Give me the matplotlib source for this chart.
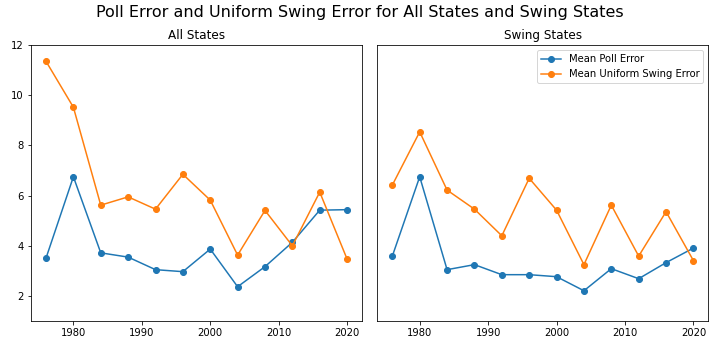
import matplotlib
matplotlib.use("Agg")
import matplotlib.pyplot as plt

years = [1976, 1980, 1984, 1988, 1992, 1996, 2000, 2004, 2008, 2012, 2016, 2020]

# All states
all_poll_error = [3.51, 6.75, 3.72, 3.55, 3.05, 2.97, 3.87, 2.37, 3.17, 4.14, 5.42, 5.44]
all_swing_error = [11.35, 9.52, 5.62, 5.95, 5.46, 6.85, 5.82, 3.63, 5.41, 4.00, 6.14, 3.47]

# Swing states
swing_poll_error = [3.59, 6.75, 3.05, 3.25, 2.85, 2.85, 2.77, 2.21, 3.09, 2.69, 3.33, 3.91]
swing_swing_error = [6.42, 8.54, 6.22, 5.46, 4.40, 6.69, 5.42, 3.25, 5.62, 3.59, 5.36, 3.41]

fig = plt.figure(figsize=(10, 5), dpi=72, facecolor="white")
ax1 = fig.add_axes([0.043, 0.108, 0.46, 0.767])
ax2 = fig.add_axes([0.524, 0.108, 0.46, 0.767], sharey=ax1)

ax1.plot(years, all_poll_error, marker="o", label="Mean Poll Error")
ax1.plot(years, all_swing_error, marker="o", label="Mean Uniform Swing Error")
ax1.set_title("All States", fontsize=12)

ax2.plot(years, swing_poll_error, marker="o", label="Mean Poll Error")
ax2.plot(years, swing_swing_error, marker="o", label="Mean Uniform Swing Error")
ax2.set_title("Swing States", fontsize=12)
ax2.tick_params(axis="y", left=False, labelleft=False)
ax2.legend(loc="upper right")

ax1.set_ylim(1, 12)
ax1.set_yticks([2, 4, 6, 8, 10, 12])

fig.suptitle("Poll Error and Uniform Swing Error for All States and Swing States",
             fontsize=16, y=0.985)

fig.savefig("out.png", dpi=72, facecolor="white")
